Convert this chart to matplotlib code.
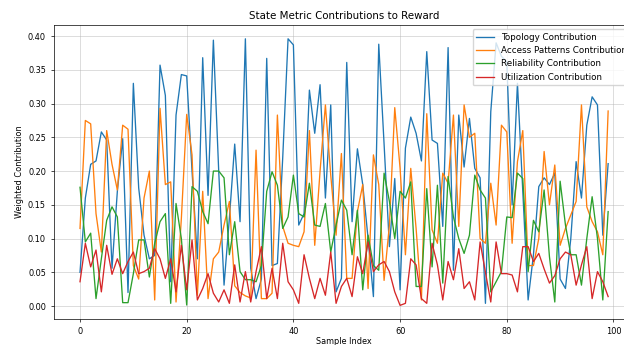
import numpy as np
import matplotlib
matplotlib.use("Agg")
import matplotlib.pyplot as plt

# Per-sample weighted contributions of each state metric
topology = [0.05, 0.16, 0.21, 0.215, 0.258, 0.246, 0.056, 0.17, 0.248, 0.02,
            0.33, 0.175, 0.105, 0.07, 0.075, 0.357, 0.312, 0.036, 0.283, 0.343,
            0.341, 0.2, 0.07, 0.368, 0.164, 0.394, 0.2, 0.031, 0.13, 0.24,
            0.125, 0.396, 0.056, 0.011, 0.04, 0.367, 0.06, 0.063, 0.22, 0.396,
            0.387, 0.12, 0.137, 0.32, 0.256, 0.328, 0.16, 0.298, 0.021, 0.041,
            0.361, 0.125, 0.233, 0.18, 0.1, 0.014, 0.388, 0.24, 0.088, 0.189,
            0.024, 0.234, 0.28, 0.256, 0.215, 0.377, 0.246, 0.241, 0.118, 0.383,
            0.053, 0.283, 0.206, 0.278, 0.204, 0.19, 0.004, 0.288, 0.39, 0.37,
            0.362, 0.15, 0.33, 0.17, 0.009, 0.076, 0.177, 0.19, 0.18, 0.197,
            0.04, 0.026, 0.1, 0.214, 0.16, 0.268, 0.31, 0.298, 0.105, 0.211]

access_patterns = [0.115, 0.275, 0.27, 0.137, 0.08, 0.26, 0.21, 0.172, 0.268, 0.262,
                   0.06, 0.04, 0.16, 0.2, 0.009, 0.293, 0.18, 0.184, 0.006, 0.13,
                   0.284, 0.224, 0.016, 0.17, 0.011, 0.07, 0.08, 0.12, 0.155, 0.03,
                   0.02, 0.015, 0.012, 0.231, 0.011, 0.011, 0.019, 0.283, 0.118, 0.093,
                   0.09, 0.088, 0.11, 0.26, 0.09, 0.2, 0.298, 0.194, 0.105, 0.226,
                   0.041, 0.041, 0.14, 0.18, 0.026, 0.224, 0.18, 0.038, 0.12, 0.294,
                   0.204, 0.076, 0.204, 0.115, 0.009, 0.285, 0.113, 0.093, 0.197, 0.182,
                   0.283, 0.118, 0.298, 0.25, 0.256, 0.1, 0.093, 0.182, 0.12, 0.268,
                   0.258, 0.093, 0.214, 0.26, 0.06, 0.06, 0.1, 0.229, 0.15, 0.209,
                   0.09, 0.115, 0.135, 0.155, 0.298, 0.147, 0.125, 0.11, 0.076, 0.289]

reliability = [0.176, 0.095, 0.108, 0.011, 0.07, 0.127, 0.147, 0.132, 0.005, 0.005,
               0.048, 0.098, 0.098, 0.043, 0.093, 0.125, 0.137, 0.004, 0.152, 0.1,
               0.0015, 0.177, 0.17, 0.14, 0.122, 0.2, 0.2, 0.19, 0.076, 0.125,
               0.051, 0.039, 0.039, 0.036, 0.06, 0.17, 0.199, 0.179, 0.115, 0.132,
               0.194, 0.137, 0.132, 0.182, 0.12, 0.118, 0.152, 0.08, 0.12, 0.157,
               0.142, 0.076, 0.142, 0.024, 0.105, 0.06, 0.053, 0.197, 0.155, 0.1,
               0.17, 0.16, 0.184, 0.029, 0.029, 0.174, 0.058, 0.179, 0.034, 0.192,
               0.132, 0.1, 0.078, 0.105, 0.194, 0.172, 0.16, 0.021, 0.036, 0.051,
               0.132, 0.131, 0.197, 0.189, 0.051, 0.127, 0.11, 0.172, 0.073, 0.006,
               0.185, 0.12, 0.076, 0.076, 0.031, 0.1, 0.162, 0.1, 0.009, 0.14]

utilization = [0.036, 0.093, 0.058, 0.083, 0.021, 0.09, 0.047, 0.07, 0.048, 0.066,
               0.08, 0.048, 0.051, 0.056, 0.085, 0.07, 0.041, 0.07, 0.021, 0.09,
               0.024, 0.098, 0.009, 0.026, 0.048, 0.019, 0.006, 0.024, 0.004, 0.061,
               0.006, 0.051, 0.006, 0.051, 0.088, 0.011, 0.056, 0.011, 0.093, 0.036,
               0.024, 0.004, 0.076, 0.041, 0.011, 0.041, 0.016, 0.08, 0.004, 0.029,
               0.041, 0.014, 0.073, 0.048, 0.095, 0.051, 0.061, 0.066, 0.051, 0.021,
               0.001, 0.004, 0.07, 0.061, 0.011, 0.004, 0.093, 0.061, 0.009, 0.066,
               0.039, 0.085, 0.026, 0.036, 0.009, 0.095, 0.05, 0.006, 0.095, 0.048,
               0.048, 0.046, 0.021, 0.088, 0.088, 0.066, 0.078, 0.055, 0.034, 0.045,
               0.07, 0.08, 0.076, 0.031, 0.061, 0.088, 0.011, 0.051, 0.036, 0.014]

series = [
    ("Topology Contribution", topology),
    ("Access Patterns Contribution", access_patterns),
    ("Reliability Contribution", reliability),
    ("Utilization Contribution", utilization),
]

plt.rcParams.update({
    "font.size": 5.9,
    "axes.linewidth": 0.5,
    "xtick.major.width": 0.5,
    "ytick.major.width": 0.5,
    "xtick.major.size": 2,
    "ytick.major.size": 2,
})

fig = plt.figure(figsize=(6.24, 3.45), dpi=100)
# axes run past the right edge of the canvas
ax = fig.add_axes([0.0859, 0.0742, 0.931, 0.854])

samples = np.arange(len(topology))
for label, values in series:
    ax.plot(samples, values, label=label, linewidth=0.95)

ax.set_ylim(-0.0198, 0.4168)
ax.set_title("State Metric Contributions to Reward", fontsize=7.4, pad=4)
ax.set_xlabel("Sample Index", labelpad=1)
ax.set_ylabel("Weighted Contribution", labelpad=3)
ax.grid(True, linewidth=0.5, alpha=0.6)
ax.legend(loc="upper right", fontsize=6.3, framealpha=0.8,
          handlelength=2.0, borderpad=0.4, labelspacing=0.5)

fig.savefig("out.png", dpi=100)
